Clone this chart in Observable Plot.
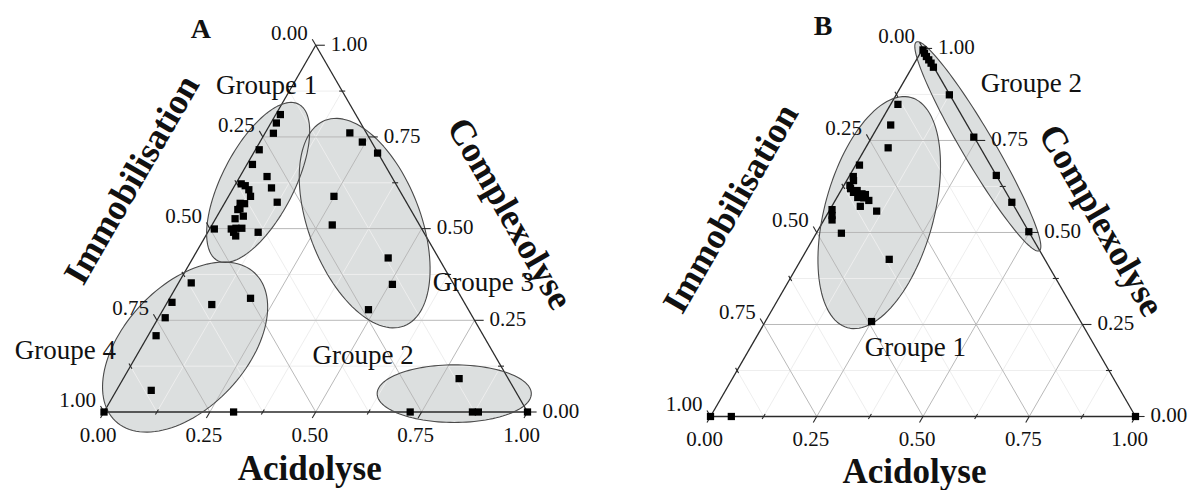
<!DOCTYPE html>
<html><head><meta charset="utf-8">
<script src="https://cdn.jsdelivr.net/npm/d3@7"></script>
<script src="https://cdn.jsdelivr.net/npm/@observablehq/plot@0.6"></script>
<style>
body{margin:0;background:#fff;}
#wrap{position:relative;width:1189px;height:490px;overflow:hidden;background:#fff;}
#wrap > svg{position:absolute;top:0;}
</style></head><body><div id="wrap"></div>
<script>
// ---------- Panel A : ternary values (Acidolyse, Complexolyse, Immobilisation) ----------
const A_group = ["1","1","1","1","1","1","1","1","1","1","1","1","1","1","1","1","1","1","1","1","1","1","1","1","1",
  "3","3","3","3","3","3","3","3",
  "4","4","4","4","4","4","4","4","-",
  "2","2","2","2","2"];
const A_acid = [.011,.013,.020,.009,.013,.064,.090,.123,.013,.025,.039,.052,.048,.037,.044,.062,.040,.046,.011,.051,.061,.075,.071,.119,.061,
  .200,.242,.293,.249,.284,.461,.507,.485,
  .030,.011,.108,.191,.016,.019,.082,.000,.306,
  .793,.723,.870,.884,1.00];
const A_comp = [.811,.788,.760,.715,.675,.642,.611,.572,.622,.617,.606,.588,.568,.569,.554,.534,.552,.527,.499,.499,.501,.501,.480,.490,.490,
  .761,.736,.706,.588,.510,.420,.348,.279,
  .352,.299,.293,.310,.257,.208,.059,.000,.000,
  .091,.000,.000,.000,.000];
const A_immo = [.178,.199,.220,.276,.312,.294,.299,.305,.365,.358,.355,.360,.384,.394,.402,.404,.408,.427,.490,.450,.438,.424,.449,.391,.449,
  .039,.022,.001,.163,.206,.119,.145,.236,
  .618,.690,.599,.499,.727,.773,.859,1.00,.694,
  .116,.277,.130,.116,.000];

// ---------- Panel B ----------
const B_group = ["1","1","1","1","1","1","1","1","1","1","1","1","1","1","1","1","1","1","1","1","1","1","1",
  "2","2","2","2","2","2","2","2","2","2","2",
  "-","-","-"];
const B_acid = [.017,.028,.053,.009,.010,.016,.020,.032,.038,.054,.063,.064,.079,.067,.112,.005,.013,.019,.059,.207,.250,.014,.049,
  .002,.010,.019,.029,.039,.050,.125,.240,.345,.418,.498,
  .000,.049,1.00];
const B_comp = [.848,.792,.730,.683,.652,.641,.619,.609,.614,.605,.603,.594,.587,.571,.558,.562,.546,.534,.498,.427,.258,.628,.595,
  .996,.987,.978,.969,.960,.949,.874,.759,.655,.582,.502,
  .000,.000,.000];
const B_immo = [.135,.180,.217,.308,.338,.343,.361,.359,.348,.341,.334,.342,.334,.362,.330,.433,.441,.447,.443,.366,.492,.358,.356,
  .002,.003,.003,.002,.001,.001,.001,.001,.000,.000,.000,
  1.00,.951,.000];

// ---------- Group zones (ellipses): centre (Acidolyse, Complexolyse), semi-axes, tilt ----------
const A_zoneNames = ["Groupe 1","Groupe 3","Groupe 4","Groupe 2"];
const A_zoneAcid = [.051,.358,.103,.802];
const A_zoneComp = [.626,.515,.177,.050];
const A_zoneMajor = [.208,.260,.240,.182];
const A_zoneMinor = [.085,.132,.144,.068];
const A_zoneTilt = [62.7,-69,46.8,0];
const A_labelX = [.384,.896,-.091,.612];
const A_labelY = [.771,.306,.145,.133];

const B_zoneNames = ["Groupe 1","Groupe 2"];
const B_zoneAcid = [.120,.262];
const B_zoneComp = [.554,.734];
const B_zoneMajor = [.281,.285];
const B_zoneMinor = [.128,.038];
const B_zoneTilt = [74.6,-59.5];
const B_labelX = [.482,.755];
const B_labelY = [.162,.784];

// ---------- Axes ----------
const tickValues = [0,.25,.5,.75,1];
const tickLabels = ["0.00","0.25","0.50","0.75","1.00"];
const minorValues = [.125,.375,.625,.875];
const gridValues = [.25,.5,.75];
const axisTitles = {bottom:"Acidolyse", left:"Immobilisation", right:"Complexolyse"};

// ---------- helpers ----------
const H = Math.sqrt(3)/2;
const tx = (a,c) => a + c/2;
const ty = (c) => c*H;

function ellipsePts(ca, cc, ra, rb, tilt, id){
  const X = tx(ca,cc), Y = ty(cc), p = tilt*Math.PI/180, out = [];
  for (let k=0;k<=120;k++){
    const t = 2*Math.PI*k/120;
    const u = ra*Math.cos(t), v = rb*Math.sin(t);
    out.push({id, x: X + u*Math.cos(p) - v*Math.sin(p), y: Y + u*Math.sin(p) + v*Math.cos(p)});
  }
  return out;
}

function gridSegs(vals){
  const s = [];
  for (const v of vals){
    s.push({x1:v, y1:0, x2:v+(1-v)/2, y2:(1-v)*H});
    s.push({x1:v/2, y1:v*H, x2:1-v/2, y2:v*H});
    s.push({x1:1-v, y1:0, x2:(1-v)/2, y2:(1-v)*H});
  }
  return s;
}

function panel(cfg){
  const pxPerUnit = cfg.xr[1]-cfg.xr[0];
  const tl = 7/pxPerUnit, ml = 3/pxPerUnit;
  const pts = cfg.acid.map((a,k)=>({x:tx(a,cfg.comp[k]), y:ty(cfg.comp[k]), g:cfg.group[k], i:cfg.immo[k]}));
  const zones = cfg.zAcid.flatMap((a,k)=>ellipsePts(a,cfg.zComp[k],cfg.zMaj[k],cfg.zMin[k],cfg.zTilt[k],k));
  const tri = [{x1:0,y1:0,x2:1,y2:0},{x1:1,y1:0,x2:.5,y2:H},{x1:.5,y1:H,x2:0,y2:0}];
  const ticks = [];
  tickValues.forEach(v=>{
    ticks.push({x1:v,y1:0,x2:v-tl*.5,y2:-tl*H});
    const lx=(1-v)/2, ly=(1-v)*H; ticks.push({x1:lx,y1:ly,x2:lx-tl*.5,y2:ly+tl*H});
    const rx=1-v/2, ry=v*H; ticks.push({x1:rx,y1:ry,x2:rx+tl*1.3,y2:ry});
  });
  minorValues.forEach(v=>{
    ticks.push({x1:v+ml*.5,y1:ml*H,x2:v-ml*.5,y2:-ml*H});
    const lx=(1-v)/2, ly=(1-v)*H; ticks.push({x1:lx+ml*.5,y1:ly-ml*H,x2:lx-ml*.5,y2:ly+ml*H});
    const rx=1-v/2, ry=v*H; ticks.push({x1:rx-ml,y1:ry,x2:rx+ml,y2:ry});
  });
  const bottomLab = tickValues.map((v,k)=>({x:v,y:0,t:tickLabels[k]}));
  const leftLab = tickValues.map((v,k)=>({x:(1-v)/2,y:(1-v)*H,t:tickLabels[k]}));
  const rightLab = tickValues.map((v,k)=>({x:1-v/2,y:v*H,t:tickLabels[k]}));
  const glab = cfg.zNames.map((n,k)=>({x:cfg.lx[k],y:cfg.ly[k],t:n}));
  const font = "'Liberation Serif','Times New Roman',serif";
  return Plot.plot({
    width: cfg.width, height: 490, margin: 0,
    style: {fontFamily: font, background: "transparent", overflow: "visible"},
    x: {domain:[0,1], range: cfg.xr, axis: null},
    y: {domain:[0,H], range: cfg.yr, axis: null},
    marks: [
      Plot.line(zones, {x:"x", y:"y", z:"id", fill:"#dcdfdf", stroke:"none"}),
      Plot.link(gridSegs(minorValues), {x1:"x1",y1:"y1",x2:"x2",y2:"y2", stroke:"#eeeeee", strokeWidth:1}),
      Plot.link(gridSegs(gridValues), {x1:"x1",y1:"y1",x2:"x2",y2:"y2", stroke:"#b9b9b9", strokeWidth:1}),
      Plot.link(tri, {x1:"x1",y1:"y1",x2:"x2",y2:"y2", stroke:"#2a2a2a", strokeWidth:1.3}),
      Plot.line(zones, {x:"x", y:"y", z:"id", fill:"none", stroke:"#4a4a4a", strokeWidth:1.1}),
      Plot.link(ticks, {x1:"x1",y1:"y1",x2:"x2",y2:"y2", stroke:"#2a2a2a", strokeWidth:1.1}),
      Plot.dot(pts, {x:"x", y:"y", symbol:"square", r:4.1, fill:"#000", stroke:"none"}),
      Plot.text(bottomLab, {x:"x", y:"y", text:"t", dx:-6, dy:23, fontSize:21, fill:"#111"}),
      Plot.text(leftLab, {x:"x", y:"y", text:"t", dx:-8, dy:-12, textAnchor:"end", fontSize:21, fill:"#111"}),
      Plot.text(rightLab, {x:"x", y:"y", text:"t", dx:15, dy:-1, textAnchor:"start", fontSize:21, fill:"#111"}),
      Plot.text(glab, {x:"x", y:"y", text:"t", fontSize:27, fill:"#111"}),
      Plot.text([axisTitles.bottom], {x:()=>.5, y:()=>0, text:d=>d, dx:cfg.tb[0], dy:cfg.tb[1], fontSize:35, fontWeight:"bold", fill:"#111"}),
      Plot.text([axisTitles.left], {x:()=>.25, y:()=>.5*H, text:d=>d, dx:cfg.tlft[0], dy:cfg.tlft[1], rotate:-60, fontSize:36, fontWeight:"bold", fill:"#111"}),
      Plot.text([axisTitles.right], {x:()=>.75, y:()=>.5*H, text:d=>d, dx:cfg.trt[0], dy:cfg.trt[1], rotate:60, fontSize:36, fontWeight:"bold", fill:"#111"}),
      Plot.text([cfg.letter], {x:()=>.5, y:()=>H, text:d=>d, dx:cfg.lt[0], dy:cfg.lt[1], fontSize:28, fontWeight:"bold", fill:"#111"})
    ]
  });
}

const wrap = document.getElementById("wrap");
const svgA = panel({width:595, xr:[103.5,527], yr:[411.5, 411.5-423.5*H], acid:A_acid, comp:A_comp, immo:A_immo, group:A_group,
  zNames:A_zoneNames, zAcid:A_zoneAcid, zComp:A_zoneComp, zMaj:A_zoneMajor, zMin:A_zoneMinor, zTilt:A_zoneTilt, lx:A_labelX, ly:A_labelY,
  tb:[-6,57], tlft:[-78,-49], trt:[88,-15], lt:[-115,-16], letter:"A"});
svgA.style.left = "0px";
wrap.appendChild(svgA);
const svgB = panel({width:594, xr:[115,540], yr:[416, 416-425*H], acid:B_acid, comp:B_comp, immo:B_immo, group:B_group,
  zNames:B_zoneNames, zAcid:B_zoneAcid, zComp:B_zoneComp, zMaj:B_zoneMajor, zMin:B_zoneMinor, zTilt:B_zoneTilt, lx:B_labelX, ly:B_labelY,
  tb:[-8.5,55], tlft:[-86,-24], trt:[72,-12], lt:[-100,-22], letter:"B"});
svgB.style.left = "595px";
wrap.appendChild(svgB);
</script></body></html>
